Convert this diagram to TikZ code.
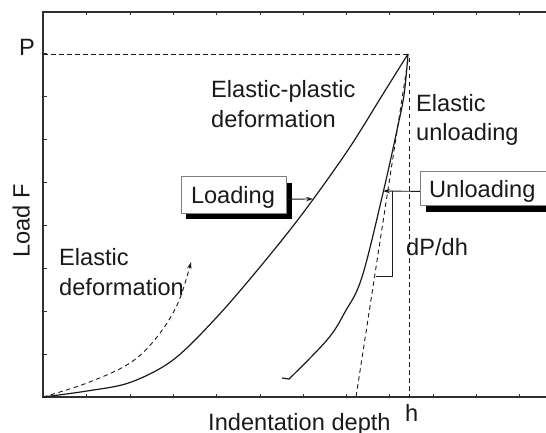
\documentclass[tikz,border=0pt]{standalone}
\usepackage{fontspec}
\setmainfont{Liberation Sans}
\usetikzlibrary{arrows.meta,shadows}
\definecolor{ink}{HTML}{1A1A1A}
\definecolor{axcol}{HTML}{303030}
\begin{document}
\begin{tikzpicture}[x=1pt,y=-1pt,
  lbl/.style={inner sep=0pt,text=ink,font=\fontsize{23.6}{28}\selectfont},
  curve/.style={draw=ink,line width=1.2pt},
  dsh/.style={draw=ink,line width=0.9pt,dash pattern=on 4.5pt off 3.5pt},
  boxsty/.style={draw=gray,line width=0.8pt,fill=white,inner sep=0pt},
  shade/.style={fill=black},
  arr/.style={draw=ink,line width=0.9pt,-{Stealth[length=7pt,width=4.5pt]}},
  tick/.style={draw=axcol,line width=0.7pt}]
\useasboundingbox (0,0) rectangle (546,433);
% axes frame
\draw[axcol,line width=1.3pt] (546,12) -- (43,12) -- (43,397) -- (546,397);
\foreach \k in {1,...,11}{
  \draw[tick] ({43.4+43.3*\k},397) -- ++(0,-3.5);
  \draw[tick] ({43.4+43.3*\k},12) -- ++(0,3.5);
}
\foreach \k in {1,...,8}{
  \draw[tick] (43,{397-43*\k}) -- ++(3.5,0);
}
\coordinate (O) at (43,397);
\coordinate (Pk) at (408,54);
\coordinate (Pl) at (43,54);
\coordinate (hTop) at (409,58);
\coordinate (hBot) at (409,397);
\coordinate (tTop) at (408,60);
\coordinate (tBot) at (356,397);
% dashed reference lines
\draw[dsh] (Pl) -- (Pk);
\draw[dsh] (hTop) -- (hBot);
\draw[dsh] (tTop) -- (tBot);
% elastic deformation (dashed, arrow)
\draw[dsh,-{Stealth[length=7pt,width=4.5pt]}] plot[smooth,tension=0.6] coordinates {(43,397) (87,383) (130,363) (157,337) (178,303) (191,262)};
% loading curve
\draw[curve] plot[smooth,tension=0.55] coordinates {(43,397) (87,391) (130,382.5) (173,360) (216,318) (260,267) (303,213) (348,150) (383,94) (408,54)};
% unloading curve
\draw[curve] plot[smooth,tension=0.6] coordinates {(408,54) (404,95) (397,130) (383,193) (362,277) (345,312) (327,340) (289,379)} -- (282,378);
% dP/dh bracket
\coordinate (bTop) at (392,191);
\coordinate (bBot) at (392,276);
\coordinate (bLeft) at (376,276);
\draw[ink,line width=0.9pt] (bTop) -- (bBot) -- (bLeft);
% boxes
\fill[shade] (186,182.5) rectangle (292,219);
\node[boxsty,anchor=north west,minimum width=105.5pt,minimum height=36.5pt] (loadbox) at (180.5,176) {};
\node[lbl,anchor=base] (loadtxt) at (233,203) {Loading};
\fill[shade] (426,205) rectangle (560,211.5);
\node[boxsty,anchor=north west,minimum width=140pt,minimum height=34pt] (unbox) at (420,171) {};
\node[lbl,anchor=base west] (untxt) at (429,197) {Unloading};
% arrows
\coordinate (lt) at (313,199);
\coordinate (ut) at (383,191);
\draw[arr] ([yshift=-4.5pt]loadbox.east) -- (lt);
\draw[arr] ([yshift=-3pt]unbox.west) -- (ut);
% labels
\node[lbl,anchor=base west] (ep1) at (211,98) {Elastic-plastic};
\node[lbl,anchor=base west] (ep2) at (211,128) {deformation};
\node[lbl,anchor=base west] (eu1) at (416,112) {Elastic};
\node[lbl,anchor=base west] (eu2) at (416,140) {unloading};
\node[lbl,anchor=base west] (ed1) at (59,265) {Elastic};
\node[lbl,anchor=base west] (ed2) at (59,295) {deformation};
\node[lbl,anchor=base west] (dpdh) at (406,255) {dP/dh};
\node[lbl,anchor=base west] (plab) at (19,56) {P};
\node[lbl,anchor=base west] (hlab) at (405,421) {h};
\node[lbl,anchor=base west] (xlab) at (208,430) {Indentation depth};
\node[lbl,anchor=base west,rotate=90] (ylab) at (29.5,258) {Load F};
\end{tikzpicture}
\end{document}
